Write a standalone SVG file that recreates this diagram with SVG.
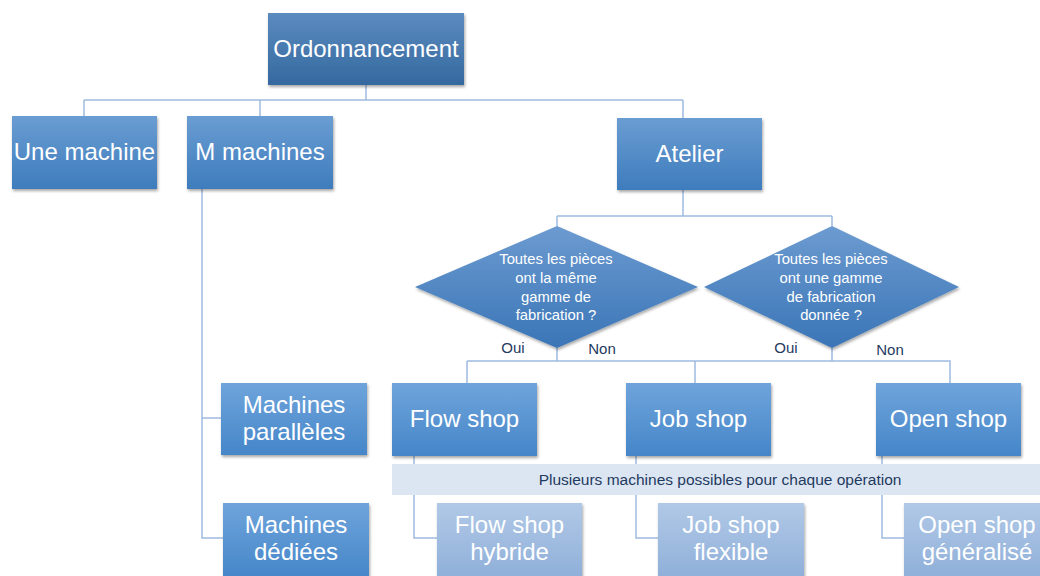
<svg xmlns="http://www.w3.org/2000/svg" width="1040" height="576" viewBox="0 0 1040 576">
<defs>
<linearGradient id="gTop" x1="0" y1="0" x2="0" y2="1"><stop offset="0" stop-color="#5b8bbf"/><stop offset="1" stop-color="#35699f"/></linearGradient>
<linearGradient id="gMid" x1="0" y1="0" x2="0" y2="1"><stop offset="0" stop-color="#6a9dd2"/><stop offset="1" stop-color="#3e7cbd"/></linearGradient>
<linearGradient id="gLow" x1="0" y1="0" x2="0" y2="1"><stop offset="0" stop-color="#6fa4db"/><stop offset="1" stop-color="#4586c9"/></linearGradient>
<linearGradient id="gDia" x1="0" y1="0" x2="0" y2="1"><stop offset="0" stop-color="#6c9bd0"/><stop offset="1" stop-color="#3a75b7"/></linearGradient>
<linearGradient id="gLight" x1="0" y1="0" x2="0" y2="1"><stop offset="0" stop-color="#b1c9e7"/><stop offset="1" stop-color="#8fafd9"/></linearGradient>
<filter id="sh" x="-10%" y="-10%" width="125%" height="130%"><feDropShadow dx="1" dy="2" stdDeviation="1.5" flood-color="#000" flood-opacity="0.35"/></filter>
</defs>
<style>
.box{filter:url(#sh);}
.t{font-family:"Liberation Sans",Arial,sans-serif;fill:#fff;text-anchor:middle;font-size:24px;}
.d{font-family:"Liberation Sans",Arial,sans-serif;fill:#fff;text-anchor:middle;font-size:14.8px;}
.l{font-family:"Liberation Sans",Arial,sans-serif;fill:#1f3a5f;text-anchor:middle;font-size:15px;}
.c{fill:none;stroke:#9dbbe0;stroke-width:1.5;}
</style>
<g id="connectors">
<path class="c" d="M366 85V100M84 100H683M84 100V116M260 100V116M683 100V118"/>
<path class="c" d="M202 189V538H223M202 418H221"/>
<path class="c" d="M683 190V216M557 216H832M557 216V226M832 216V226"/>
<path class="c" d="M557 348V361M467 361H695M467 361V383M695 361V383M832 348V361H950V383M695 361H832"/>
<path class="c" d="M414 456V538H437M636 456V538H658M882 456V538H904"/>
</g>
<g id="band"><rect x="392" y="464" width="648" height="31" fill="#dce6f2"/><text class="l" x="720" y="485" style="font-size:15.5px">Plusieurs machines possibles pour chaque opération</text></g>
<g id="ordonnancement"><rect class="box" x="268" y="13" width="196" height="72" fill="url(#gTop)"/><text class="t" x="366" y="57">Ordonnancement</text></g>
<g id="une-machine"><rect class="box" x="12" y="116" width="145" height="73" fill="url(#gMid)"/><text class="t" x="84.5" y="160">Une machine</text></g>
<g id="m-machines"><rect class="box" x="187" y="116" width="146" height="73" fill="url(#gMid)"/><text class="t" x="260" y="160">M machines</text></g>
<g id="atelier"><rect class="box" x="617" y="118" width="145" height="72" fill="url(#gMid)"/><text class="t" x="689.5" y="162">Atelier</text></g>
<g id="diamond1"><polygon class="box" points="557,226 698,287 557,348 415,287" fill="url(#gDia)"/>
<text class="d" x="556" y="264">Toutes les pièces</text><text class="d" x="556" y="283">ont la même</text><text class="d" x="556" y="302">gamme de</text><text class="d" x="556" y="320">fabrication ?</text></g>
<g id="diamond2"><polygon class="box" points="832,226 959,287 832,348 704,287" fill="url(#gDia)"/>
<text class="d" x="831" y="264">Toutes les pièces</text><text class="d" x="831" y="283">ont une gamme</text><text class="d" x="831" y="302">de fabrication</text><text class="d" x="831" y="320">donnée ?</text></g>
<g id="labels"><text class="l" x="513" y="353">Oui</text><text class="l" x="602" y="354">Non</text><text class="l" x="786" y="353">Oui</text><text class="l" x="890" y="355">Non</text></g>
<g id="machines-paralleles"><rect class="box" x="221" y="383" width="146" height="72" fill="url(#gLow)"/><text class="t" x="294" y="413">Machines</text><text class="t" x="294" y="440">parallèles</text></g>
<g id="machines-dediees"><rect class="box" x="223" y="503" width="146" height="75" fill="url(#gLow)"/><text class="t" x="296" y="533">Machines</text><text class="t" x="296" y="560">dédiées</text></g>
<g id="flow-shop"><rect class="box" x="392" y="383" width="145" height="73" fill="url(#gLow)"/><text class="t" x="464.5" y="427">Flow shop</text></g>
<g id="job-shop"><rect class="box" x="626" y="383" width="145" height="73" fill="url(#gLow)"/><text class="t" x="698.5" y="427">Job shop</text></g>
<g id="open-shop"><rect class="box" x="876" y="383" width="145" height="73" fill="url(#gLow)"/><text class="t" x="948.5" y="427">Open shop</text></g>
<g id="flow-shop-hybride"><rect class="box" x="437" y="503" width="145" height="75" fill="url(#gLight)"/><text class="t" x="509.5" y="533">Flow shop</text><text class="t" x="509.5" y="560">hybride</text></g>
<g id="job-shop-flexible"><rect class="box" x="658" y="503" width="146" height="75" fill="url(#gLight)"/><text class="t" x="731" y="533">Job shop</text><text class="t" x="731" y="560">flexible</text></g>
<g id="open-shop-generalise"><rect class="box" x="904" y="503" width="146" height="75" fill="url(#gLight)"/><text class="t" x="977" y="533">Open shop</text><text class="t" x="977" y="560">généralisé</text></g>
</svg>
